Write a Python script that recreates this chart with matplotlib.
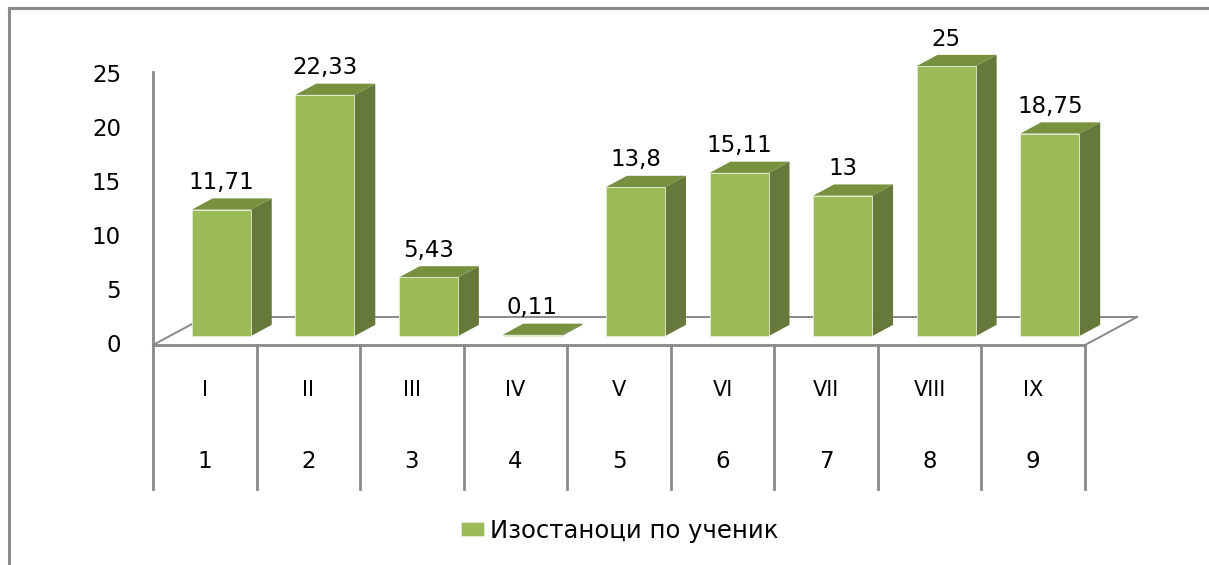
import matplotlib
matplotlib.use("Agg")
import matplotlib.pyplot as plt
from matplotlib.patches import Polygon
from matplotlib.lines import Line2D

# data
grades  = ["I", "II", "III", "IV", "V", "VI", "VII", "VIII", "IX"]
numbers = ["1", "2", "3", "4", "5", "6", "7", "8", "9"]
values  = [11.71, 22.33, 5.43, 0.11, 13.8, 15.11, 13, 25, 18.75]
y_ticks = [0, 5, 10, 15, 20, 25]
series_name = "Изостаноци по ученик"

FRONT = "#9BBB59"
SIDE  = "#66783A"
TOP   = "#77913F"
GRID  = "#898989"

W, H = 1209, 565
# pixel layout of the front plane
PX_X0, PX_COL = 153, 103.56     # left edge of plot, width of one category
PX_Y0, PX_UNIT = 345, 10.8      # y pixel of value 0, pixels per unit

DX, DY = 52 / PX_COL, 28 / PX_UNIT   # floor depth in data units
D0, DEPTH = 0.32, 0.40               # bar position / thickness inside the floor depth
BAR_W = 0.57

fig = plt.figure(figsize=(W / 100, H / 100), dpi=100)
ax = fig.add_axes([0, 0, 1, 1])
ax.set_xlim(-0.5 - PX_X0 / PX_COL, -0.5 + (W - PX_X0) / PX_COL)
ax.set_ylim((PX_Y0 - H) / PX_UNIT, PX_Y0 / PX_UNIT)
ax.axis("off")

n = len(values)
left, right = -0.5, n - 0.5

# floor (3D base)
ax.plot([left, right], [0, 0], color=GRID, lw=2, zorder=1)
ax.plot([left, left + DX], [0, DY], color=GRID, lw=1.4, zorder=1)
ax.plot([right, right + DX], [0, DY], color=GRID, lw=1.4, zorder=1)
ax.plot([left + DX, right + DX], [DY, DY], color=GRID, lw=1.4, zorder=1)

# value axis line and tick labels
ax.plot([left, left], [0, (PX_Y0 - 72) / PX_UNIT], color=GRID, lw=2, zorder=1)
for t in y_ticks:
    ax.text(left - 32 / PX_COL, t, str(t), ha="right", va="center", fontsize=16.5)

# bars: front faces through ax.bar, then side and top faces
xs = [i + D0 * DX for i in range(n)]
base = D0 * DY
bdx, bdy = DEPTH * DX, DEPTH * DY
bars = ax.bar(xs, values, width=BAR_W, bottom=base, color=FRONT,
              edgecolor="#E4ECD2", linewidth=0.6, zorder=3, label=series_name)
for x, v in zip(xs, values):
    xl, xr = x - BAR_W / 2, x + BAR_W / 2
    top = base + v
    ax.add_patch(Polygon([(xr, base), (xr + bdx, base + bdy), (xr + bdx, top + bdy), (xr, top)],
                         closed=True, facecolor=SIDE, edgecolor="none", zorder=2.9))
    ax.add_patch(Polygon([(xl, top), (xr, top), (xr + bdx, top + bdy), (xl + bdx, top + bdy)],
                         closed=True, facecolor=TOP, edgecolor="none", zorder=2.9))
    label = f"{v:g}".replace(".", ",")
    ax.text(x, top + bdy + 0.4, label, ha="center", va="bottom", fontsize=16.5, zorder=4)

# data table under the plot
table_bottom = (PX_Y0 - 489) / PX_UNIT
for k in range(n + 1):
    ax.plot([left + k, left + k], [0, table_bottom], color=GRID, lw=2, zorder=1)
for i in range(n):
    ax.text(i, (PX_Y0 - 390) / PX_UNIT, grades[i], ha="center", va="center", fontsize=15)
    ax.text(i, (PX_Y0 - 461) / PX_UNIT, numbers[i], ha="center", va="center", fontsize=16.5)

ax.legend(handles=[bars], loc="center", bbox_to_anchor=(620 / W, 1 - 531 / H),
          bbox_transform=fig.transFigure, frameon=False, fontsize=17.5,
          handlelength=0.95, handleheight=0.5, handletextpad=0.25)

# chart area border (only top and left visible)
fig.add_artist(Line2D([9 / W, 1], [1 - 8 / H, 1 - 8 / H], color=GRID, lw=2.2,
                      transform=fig.transFigure))
fig.add_artist(Line2D([9 / W, 9 / W], [0, 1 - 8 / H], color=GRID, lw=2.2,
                      transform=fig.transFigure))

fig.savefig("out.png", dpi=100, facecolor="white")
